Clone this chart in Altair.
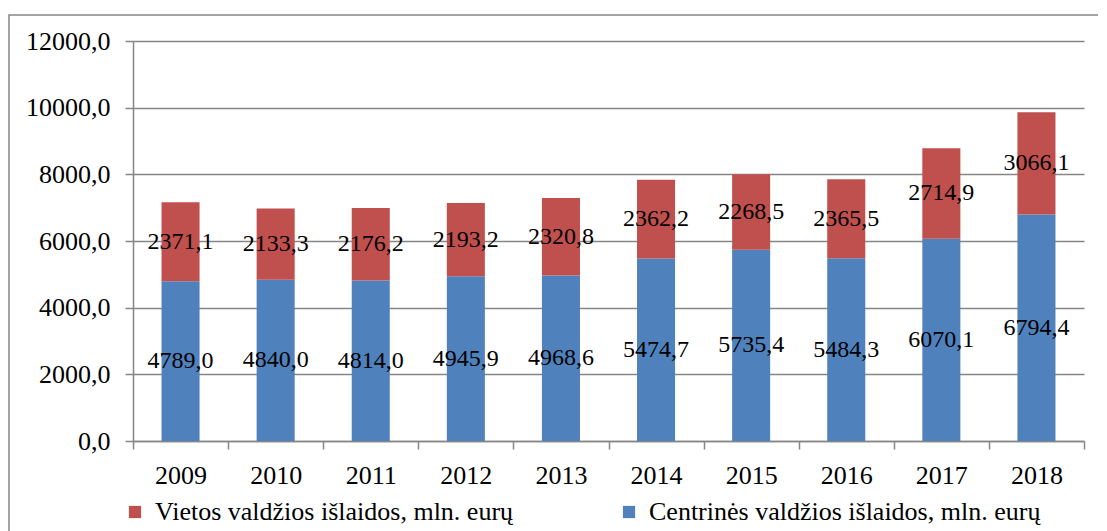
import altair as alt
import pandas as pd

years = ["2009", "2010", "2011", "2012", "2013", "2014", "2015", "2016", "2017", "2018"]
central = [4789.0, 4840.0, 4814.0, 4945.9, 4968.6, 5474.7, 5735.4, 5484.3, 6070.1, 6794.4]
local = [2371.1, 2133.3, 2176.2, 2193.2, 2320.8, 2362.2, 2268.5, 2365.5, 2714.9, 3066.1]
series = ["Vietos valdžios išlaidos, mln. eurų", "Centrinės valdžios išlaidos, mln. eurų"]
colors = ["#C0504D", "#4F81BD"]
y_ticks = [0, 2000, 4000, 6000, 8000, 10000, 12000]

rows = []
for i, yr in enumerate(years):
    rows.append({"year": yr, "series": series[1], "value": central[i], "ord": 0,
                 "start": 0.0, "end": central[i]})
    rows.append({"year": yr, "series": series[0], "value": local[i], "ord": 1,
                 "start": central[i], "end": central[i] + local[i]})
df = pd.DataFrame(rows)

FONT = "Liberation Serif"
GRID = "#868686"

base = alt.Chart(df)

bars = base.mark_bar(width=alt.RelativeBandSize(0.4)).encode(
    x=alt.X("year:N", sort=years, title=None,
            scale=alt.Scale(paddingInner=0, paddingOuter=0),
            axis=alt.Axis(labelAngle=0, tickBand="extent", labelPadding=13,
                          grid=False)),
    y=alt.Y("start:Q", title=None,
            scale=alt.Scale(domain=[0, 12000], nice=False),
            axis=alt.Axis(values=y_ticks, labelPadding=15,
                          labelExpr="replace(format(datum.value, '.1f'), '.', ',')",
                          grid=True)),
    y2="end:Q",
    color=alt.Color("series:N", scale=alt.Scale(domain=series, range=colors),
                    legend=alt.Legend(title=None, orient="none", direction="horizontal",
                                      legendX=-11, legendY=458, columns=2,
                                      symbolType="square", symbolSize=150,
                                      symbolStrokeWidth=0, symbolOpacity=1,
                                      labelLimit=700, padding=0,
                                      columnPadding=102, labelOffset=7)),
    order=alt.Order("ord:Q"),
)

labels = base.transform_calculate(
    mid="(datum.start + datum.end) / 2",
    lab="replace(format(datum.value, '.1f'), '.', ',')",
).mark_text(font=FONT, fontSize=24, color="black", baseline="middle").encode(
    x=alt.X("year:N", sort=years),
    y=alt.Y("mid:Q"),
    text="lab:N",
)

border = alt.Chart(alt.Data(values=[{}])).mark_rect(
    fill=None, stroke=GRID, strokeWidth=1.5
).encode(
    x=alt.value(-124), x2=alt.value(1200), y=alt.value(-26), y2=alt.value(600)
)

chart = alt.layer(bars, labels, border).properties(
    width=951, height=400,
    autosize=alt.AutoSizeParams(type="none"),
    padding={"left": 125, "top": 33, "right": 14, "bottom": 90},
).configure_view(stroke=None).configure_axis(
    labelFont=FONT, labelFontSize=26, labelColor="black",
    domainColor=GRID, tickColor=GRID, tickSize=8, domainWidth=1.5, tickWidth=1.5,
    gridColor=GRID, gridOpacity=1, gridWidth=1.5,
).configure_legend(
    labelFont=FONT, labelFontSize=26, labelColor="black",
)

chart.save("out.html", embed_options={"renderer": "svg", "actions": False})
